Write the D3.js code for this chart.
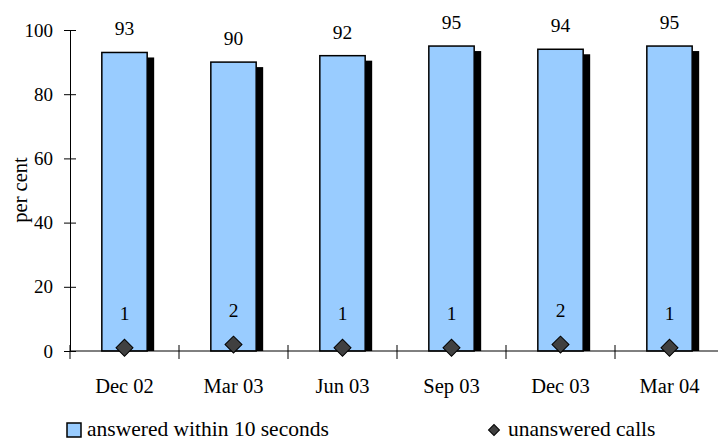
<!DOCTYPE html>
<html><head><meta charset="utf-8">
<script src="https://cdn.jsdelivr.net/npm/d3@7"></script>
<style>body{margin:0;background:#fff}svg{display:block}</style>
</head><body><svg id="c" width="718" height="441"></svg>
<script>
const categories = ["Dec 02","Mar 03","Jun 03","Sep 03","Dec 03","Mar 04"];
const answered = [93, 90, 92, 95, 94, 95];
const unanswered = [1, 2, 1, 1, 2, 1];
const yTicks = [0, 20, 40, 60, 80, 100];
const seriesNames = ["answered within 10 seconds", "unanswered calls"];

(function () {
const FONT = "Liberation Serif";
const svg = d3.select("#c");
const mLeft = 70, mRight = 724, mTop = 30, mBottom = 351;
const x = d3.scaleBand().domain(categories).range([mLeft, mRight]).paddingInner(0.584).paddingOuter(0.292);
const xc = d3.scaleBand().domain(categories).range([mLeft, mRight]);
const y = d3.scaleLinear().domain([0, 100]).range([mBottom, mTop]);
const txt = (sel, fs) => sel.attr("font-family", FONT).attr("font-size", fs).attr("fill", "#000");
const cx = i => xc(categories[i]) + xc.bandwidth() / 2;

// shadows
svg.selectAll("rect.sh").data(answered).enter().append("rect")
  .attr("x", (d,i) => x(categories[i]) + 7).attr("y", d => y(d) + 5)
  .attr("width", x.bandwidth()).attr("height", d => mBottom - y(d) - 5).attr("fill", "#000");
// bars
svg.selectAll("rect.bar").data(answered).enter().append("rect")
  .attr("x", (d,i) => x(categories[i])).attr("y", d => y(d))
  .attr("width", x.bandwidth()).attr("height", d => mBottom - y(d))
  .attr("fill", "#99CCFF").attr("stroke", "#000").attr("stroke-width", 1.5);

// y axis
const yAxis = d3.axisLeft(y).tickValues(yTicks).tickSizeInner(6).tickSizeOuter(0).tickPadding(10);
const ga = svg.append("g").attr("transform", `translate(${mLeft},0)`).call(yAxis)
  .attr("font-family", FONT).attr("font-size", 19);
ga.select(".domain").attr("stroke", "#000");
ga.selectAll(".tick line").attr("x2", 6).attr("x1", -6).attr("stroke", "#000");
ga.selectAll(".tick text").call(txt, 19).attr("x", -17);

// x axis
svg.append("line").attr("x1", mLeft).attr("x2", 718).attr("y1", mBottom).attr("y2", mBottom).attr("stroke", "#000");
const bounds = d3.range(categories.length).map(i => mLeft + i * xc.bandwidth());
svg.selectAll("line.xt").data(bounds).enter().append("line")
  .attr("x1", d => d).attr("x2", d => d).attr("y1", mBottom - 6).attr("y2", mBottom + 8).attr("stroke", "#000");
svg.selectAll("text.xl").data(categories).enter().append("text")
  .attr("x", (d,i) => cx(i)).attr("y", 393)
  .attr("text-anchor", "middle").call(txt, 20.5).text(d => d);

// value labels
svg.selectAll("text.vl").data(answered).enter().append("text")
  .attr("x", (d,i) => cx(i)).attr("y", d => y(d) - 17)
  .attr("text-anchor", "middle").call(txt, 19.5).text(d => d);

// diamonds
const diamond = d3.symbol().type(d3.symbolSquare).size(144);
svg.selectAll("path.dm").data(unanswered).enter().append("path")
  .attr("d", diamond)
  .attr("transform", (d,i) => `translate(${cx(i)},${y(d)}) rotate(45)`)
  .attr("fill", "#404040").attr("stroke", "#000").attr("stroke-width", 1);
svg.selectAll("text.ul").data(unanswered).enter().append("text")
  .attr("x", (d,i) => cx(i)).attr("y", d => y(d) - 28)
  .attr("text-anchor", "middle").call(txt, 19.5).text(d => d);

// y label
svg.append("text").attr("transform", "translate(27,190) rotate(-90)")
  .attr("text-anchor", "middle").call(txt, 20.5).text("per cent");

// legend
svg.append("rect").attr("x", 67).attr("y", 423).attr("width", 14).attr("height", 14)
  .attr("fill", "#99CCFF").attr("stroke", "#000").attr("stroke-width", 1.5);
svg.append("text").attr("x", 87).attr("y", 436).call(txt, 21.5).text(seriesNames[0]);
svg.append("path").attr("d", d3.symbol().type(d3.symbolSquare).size(60))
  .attr("transform", "translate(494,430) rotate(45)").attr("fill", "#404040").attr("stroke", "#000");
svg.append("text").attr("x", 508).attr("y", 436).call(txt, 21.5).text(seriesNames[1]);
})();
</script></body></html>
